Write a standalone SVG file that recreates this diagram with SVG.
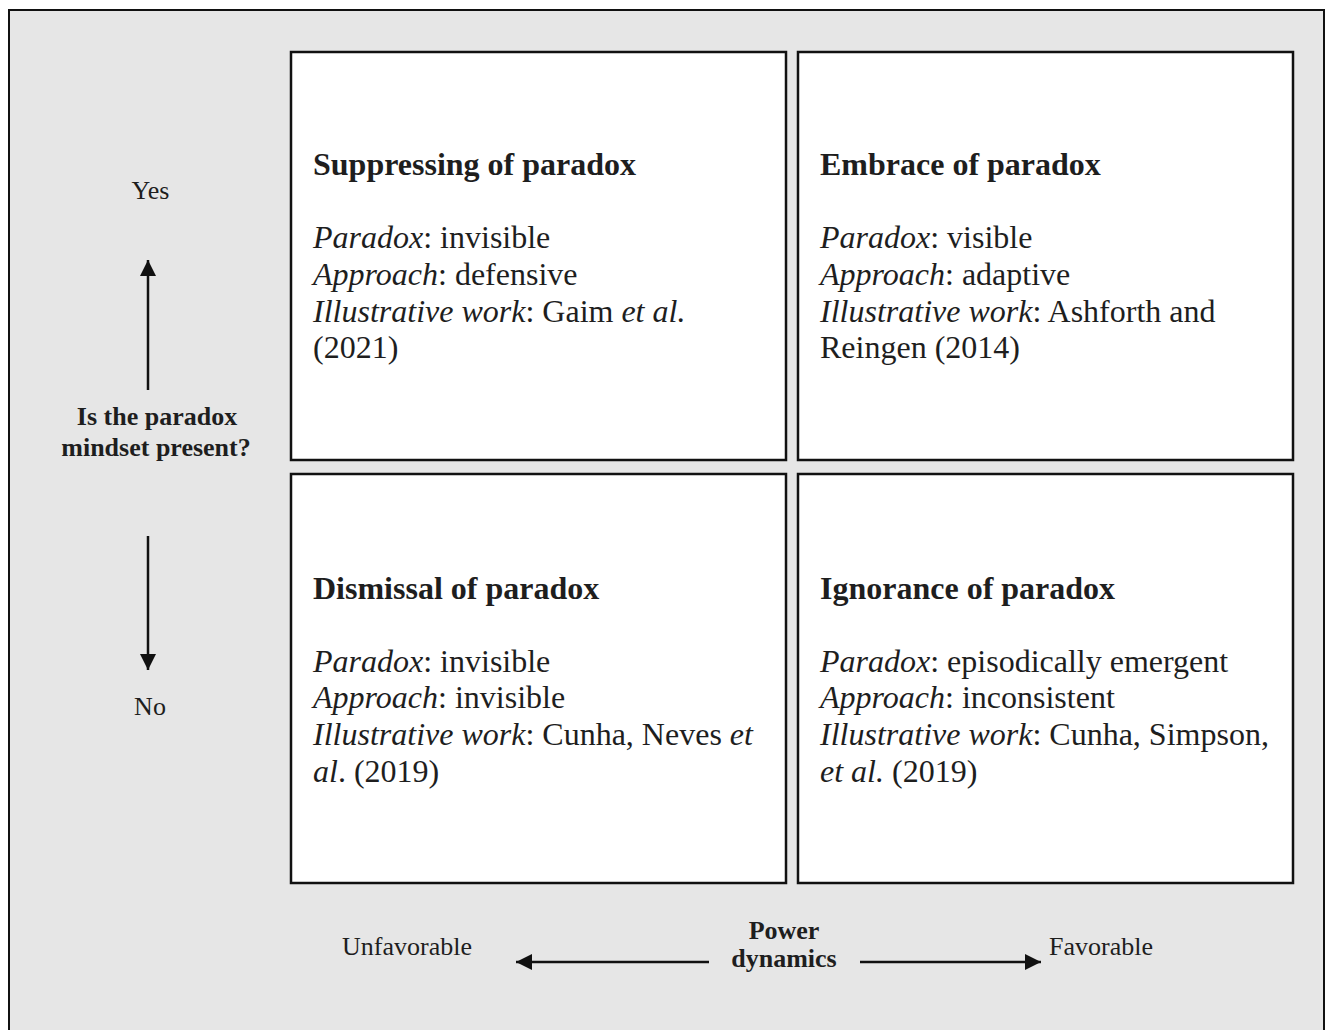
<svg xmlns="http://www.w3.org/2000/svg" width="1326" height="1030" viewBox="0 0 1326 1030">
<style>
text{font-family:"Liberation Serif","Times New Roman",serif;fill:#1e1e1e}
.t{font-size:32px;font-weight:bold}
.b{font-size:32px}
.l{font-size:26px}
.lb{font-size:26px;font-weight:bold}
.box{fill:#fff;stroke:#111;stroke-width:2.5}
.ax{stroke:#111;stroke-width:2.5;fill:none}
.i{font-style:italic}
</style>
<defs>
<marker id="ah" viewBox="0 0 16 16" refX="16" refY="8" markerWidth="16" markerHeight="16" markerUnits="userSpaceOnUse" orient="auto">
<path d="M0,0 L16,8 L0,16 Z" fill="#111"/>
</marker>
</defs>
<rect x="0" y="0" width="1326" height="1030" fill="#fff"/>
<rect x="9" y="10" width="1315" height="1030" fill="#e6e6e6" stroke="#111" stroke-width="2"/>

<g id="q-suppressing">
<rect class="box" x="291" y="52" width="495" height="408"/>
<text class="t" x="313" y="175">Suppressing of paradox</text>
<text class="b" x="313" y="248"><tspan class="i">Paradox</tspan>: invisible</text>
<text class="b" x="313" y="285"><tspan class="i">Approach</tspan>: defensive</text>
<text class="b" x="313" y="322"><tspan class="i">Illustrative work</tspan>: Gaim <tspan class="i">et al.</tspan></text>
<text class="b" x="313" y="358">(2021)</text>
</g>

<g id="q-embrace">
<rect class="box" x="798" y="52" width="495" height="408"/>
<text class="t" x="820" y="175">Embrace of paradox</text>
<text class="b" x="820" y="248"><tspan class="i">Paradox</tspan>: visible</text>
<text class="b" x="820" y="285"><tspan class="i">Approach</tspan>: adaptive</text>
<text class="b" x="820" y="322"><tspan class="i">Illustrative work</tspan>: Ashforth and</text>
<text class="b" x="820" y="358">Reingen (2014)</text>
</g>

<g id="q-dismissal">
<rect class="box" x="291" y="474" width="495" height="409"/>
<text class="t" x="313" y="599">Dismissal of paradox</text>
<text class="b" x="313" y="672"><tspan class="i">Paradox</tspan>: invisible</text>
<text class="b" x="313" y="708"><tspan class="i">Approach</tspan>: invisible</text>
<text class="b" x="313" y="745"><tspan class="i">Illustrative work</tspan>: Cunha, Neves <tspan class="i">et</tspan></text>
<text class="b" x="313" y="782"><tspan class="i">al</tspan>. (2019)</text>
</g>

<g id="q-ignorance">
<rect class="box" x="798" y="474" width="495" height="409"/>
<text class="t" x="820" y="599">Ignorance of paradox</text>
<text class="b" x="820" y="672"><tspan class="i">Paradox</tspan>: episodically emergent</text>
<text class="b" x="820" y="708"><tspan class="i">Approach</tspan>: inconsistent</text>
<text class="b" x="820" y="745"><tspan class="i">Illustrative work</tspan>: Cunha, Simpson,</text>
<text class="b" x="820" y="782"><tspan class="i">et al.</tspan> (2019)</text>
</g>

<g id="axis-mindset">
<text class="l" x="150.5" y="199" text-anchor="middle">Yes</text>
<text class="lb" x="157" y="425" text-anchor="middle">Is the paradox</text>
<text class="lb" x="156" y="456" text-anchor="middle">mindset present?</text>
<text class="l" x="150" y="715" text-anchor="middle">No</text>
</g>

<g id="axis-power">
<text class="l" x="407" y="955" text-anchor="middle">Unfavorable</text>
<text class="lb" x="784" y="939" text-anchor="middle">Power</text>
<text class="lb" x="784" y="967" text-anchor="middle">dynamics</text>
<text class="l" x="1049" y="955">Favorable</text>
</g>

<g id="connectors">
<line class="ax" x1="148" y1="390" x2="148" y2="260" marker-end="url(#ah)"/>
<line class="ax" x1="148" y1="536" x2="148" y2="670" marker-end="url(#ah)"/>
<line class="ax" x1="709" y1="962" x2="516" y2="962" marker-end="url(#ah)"/>
<line class="ax" x1="860" y1="962" x2="1041" y2="962" marker-end="url(#ah)"/>
</g>
</svg>
